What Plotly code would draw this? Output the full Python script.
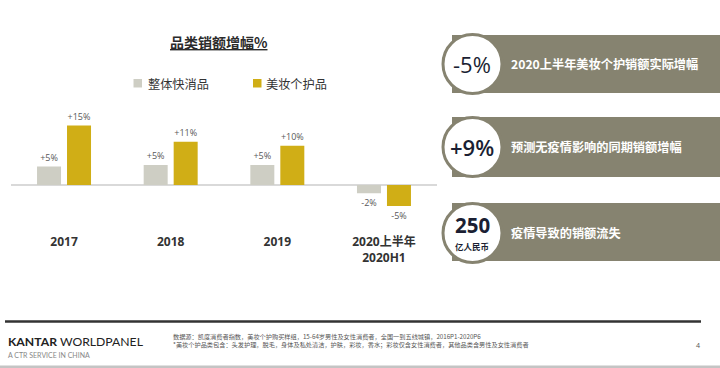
import plotly.graph_objects as go

# ---- data ----
categories = ["2017", "2018", "2019", "2020上半年<br>2020H1"]
series_names = ["整体快消品", "美妆个护品"]
fmcg_values = [4.7, 5.1, 5.1, -2.1]
beauty_values = [15.1, 11.0, 10.0, -5.3]
fmcg_labels = ["+5%", "+5%", "+5%", "-2%"]
beauty_labels = ["+15%", "+11%", "+10%", "-5%"]
title_text = "品类销额增幅%"

panel_big = ["-5%", "+9%", "250"]
panel_sub = ["", "", "亿人民币"]
panel_text = ["2020上半年美妆个护销额实际增幅", "预测无疫情影响的同期销额增幅", "疫情导致的销额流失"]

footnote_lines = [
    "数据源：凯度消费者指数，美妆个护购买样组，15-64岁男性及女性消费者，全国一到五线城镇，2016P1-2020P6",
    "*美妆个护品类包含：头发护理，脱毛，身体及私处清洁，护肤，彩妆，香水；彩妆仅含女性消费者，其他品类含男性及女性消费者",
]

# ---- style ----
W, H = 720, 368
GRAY = "#CECEC4"
GOLD = "#D0AE16"
OLIVE = "#868370"
NAVY = "#1b1f33"
FONT = "Open Sans, Noto Sans CJK SC, sans-serif"
CJK = "Noto Sans CJK SC, sans-serif"


def px(x):
    return x / W


def py(y):
    return 1 - y / H


def note(x, y, text, size, color, family, xanchor="center", **fontkw):
    return dict(x=px(x), y=py(y), xref="paper", yref="paper", text=text,
                showarrow=False, xanchor=xanchor, yanchor="middle",
                font=dict(size=size, color=color, family=family, **fontkw))


fig = go.Figure()
for name, vals, labs, col in [
    (series_names[0], fmcg_values, fmcg_labels, GRAY),
    (series_names[1], beauty_values, beauty_labels, GOLD),
]:
    fig.add_trace(go.Bar(
        x=categories, y=vals, name=name, marker=dict(color=col, line=dict(width=0)),
        text=labs, textposition="outside", cliponaxis=False,
        textfont=dict(size=9, color="#595959", family=FONT),
        showlegend=False, hoverinfo="skip",
    ))

shapes = []
annotations = []

# title
annotations.append(note(219, 42, "<b>" + title_text + "</b>", 14, "#2b2b2b", CJK,
                        lineposition="under"))

# manual legend
for (sx, tx), name, col in zip([(133.5, 146), (253, 264)], series_names, [GRAY, GOLD]):
    shapes.append(dict(type="rect", xref="paper", yref="paper",
                       x0=px(sx), x1=px(sx + 8.5), y0=py(87.5), y1=py(79),
                       fillcolor=col, line=dict(width=0)))
    annotations.append(note(tx, 83.5, name, 12.2, "#333333", CJK, xanchor="left"))

# right panels
rect_y = [(35, 93), (117, 177), (203, 261)]
circ_c = [64, 147, 233]
big_weight = ["normal", 600, "bold"]
for i in range(3):
    y0, y1 = rect_y[i]
    shapes.append(dict(type="rect", xref="paper", yref="paper", x0=px(452), x1=px(720),
                       y0=py(y1), y1=py(y0), fillcolor=OLIVE, line=dict(width=0), layer="below"))
    cy = circ_c[i]
    shapes.append(dict(type="circle", xref="paper", yref="paper", x0=px(443), x1=px(502),
                       y0=py(cy + 29.5), y1=py(cy - 29.5), fillcolor="white",
                       line=dict(color=OLIVE, width=3), layer="above"))
    if panel_sub[i]:
        annotations.append(note(472, cy - 8, panel_big[i], 20.5, NAVY, FONT,
                                weight=big_weight[i]))
        annotations.append(note(472, cy + 13, "<b>" + panel_sub[i] + "</b>", 8.5, NAVY, CJK))
    else:
        annotations.append(note(472, cy, panel_big[i], 22, NAVY, FONT, weight=big_weight[i]))
    annotations.append(note(509, cy, "<b>" + panel_text[i] + "</b>", 12.2, "white", CJK,
                            xanchor="left"))

# footer
shapes.append(dict(type="line", xref="paper", yref="paper", x0=px(5), x1=px(701),
                   y0=py(321.5), y1=py(321.5), line=dict(color="#333333", width=2.5)))
shapes.append(dict(type="rect", xref="paper", yref="paper", x0=0, x1=1,
                   y0=0, y1=py(365.5), fillcolor="#C4C4C4", line=dict(width=0)))
annotations.append(note(6, 341, "<b>KANTAR</b> WORLDPANEL", 12.2, "#222222",
                        "Lato, sans-serif", xanchor="left"))
annotations.append(note(6, 355, "A CTR SERVICE IN CHINA", 7, "#888888",
                        "Lato, sans-serif", xanchor="left"))
for j, line in enumerate(footnote_lines):
    annotations.append(note(171, 336 + 8 * j, line, 6.2, "#555555", CJK, xanchor="left"))
annotations.append(note(698, 345, "4", 7, "#555555", FONT))

fig.update_layout(
    width=W, height=H, margin=dict(l=0, r=0, t=0, b=0),
    paper_bgcolor="white", plot_bgcolor="rgba(0,0,0,0)",
    barmode="group", bargap=0.4375, bargroupgap=0.2,
    shapes=shapes, annotations=annotations,
    xaxis=dict(domain=[px(10.7), px(437.3)], showgrid=False, showline=False, ticks="",
               tickfont=dict(size=12, color="#333333", family=FONT, weight="bold"),
               ticklabelstandoff=5, automargin=False, fixedrange=True),
    yaxis=dict(domain=[py(228), py(100)], range=[-10.9, 21.6], showgrid=False,
               showticklabels=False, zeroline=True, zerolinecolor="#D9D9D9", zerolinewidth=1.5,
               automargin=False, fixedrange=True),
    font=dict(family=FONT),
)

fig.write_html(
    "out.html",
    config={"displayModeBar": False},
    post_script="document.body.style.margin='0';document.body.style.padding='0';",
)
